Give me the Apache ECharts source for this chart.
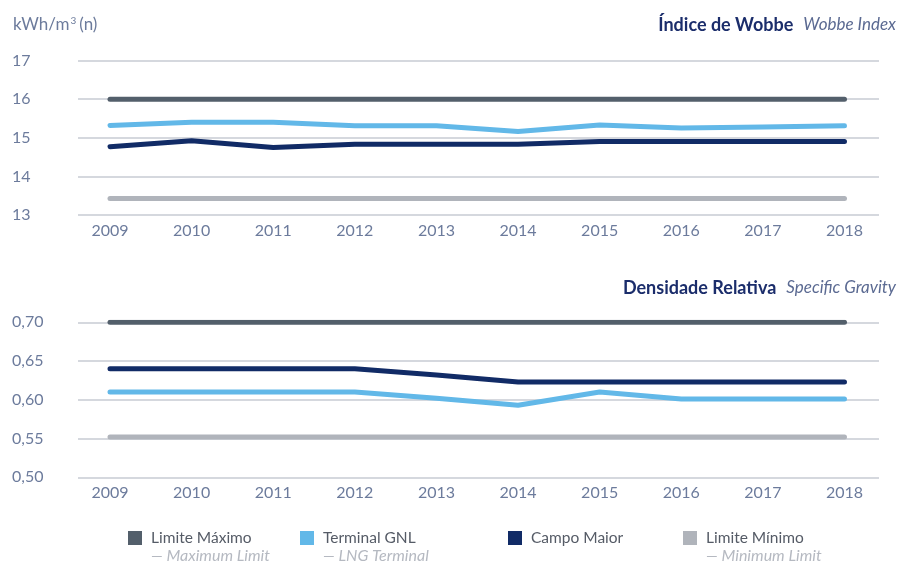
<!DOCTYPE html>
<html>
<head>
<meta charset="utf-8">
<script src="https://cdn.jsdelivr.net/npm/echarts@6/dist/echarts.min.js"></script>
<style>
html,body{margin:0;padding:0;background:#fff;}
#c{width:903px;height:562px;}
</style>
</head>
<body>
<div id="c"></div>
<script>
// ---- data ----
const years = ['2009','2010','2011','2012','2013','2014','2015','2016','2017','2018'];
const seriesNames = ['Limite Máximo','Terminal GNL','Campo Maior','Limite Mínimo'];
const seriesSub = ['— Maximum Limit','— LNG Terminal','','— Minimum Limit'];

const wobbeMax   = [16,16,16,16,16,16,16,16,16,16];
const wobbeGNL   = [15.32,15.40,15.40,15.31,15.31,15.16,15.33,15.25,15.28,15.31];
const wobbeCampo = [14.77,14.92,14.75,14.83,14.83,14.83,14.90,14.90,14.90,14.90];
const wobbeMin   = [13.43,13.43,13.43,13.43,13.43,13.43,13.43,13.43,13.43,13.43];

const densMax   = [0.70,0.70,0.70,0.70,0.70,0.70,0.70,0.70,0.70,0.70];
const densGNL   = [0.610,0.610,0.610,0.610,0.602,0.593,0.610,0.601,0.601,0.601];
const densCampo = [0.640,0.640,0.640,0.640,0.632,0.623,0.623,0.623,0.623,0.623];
const densMin   = [0.552,0.552,0.552,0.552,0.552,0.552,0.552,0.552,0.552,0.552];

const wobbeTicks = {min:13, max:17, interval:1};
const densTicks  = {min:0.50, max:0.70, interval:0.05};

// ---- styles ----
const FONT = 'Lato';
const colors = ['#535f6b','#62b8e8','#112b66','#b0b4bb'];
const labelColor = '#6c7b9c';
const gridColor = '#c7cbd3';

const topG = {top:60.5, bottom:347};
const botG = {top:322.3, bottom:84.7};
const lineGridLR = {left:78, right:24};
const dataGridLR = {left:69.2, right:17.7};

function valueAxisLines(gi, t, fmt){
  return {gridIndex:gi, type:'value', min:t.min, max:t.max, interval:t.interval,
    axisLine:{show:false}, axisTick:{show:false},
    splitLine:{show:true, lineStyle:{color:gridColor, width:1.5}},
    axisLabel:{show:true, color:labelColor, fontFamily:FONT, fontSize:16, align:'left', margin:66, formatter:fmt}};
}
function valueAxisHidden(gi, t){
  return {gridIndex:gi, type:'value', min:t.min, max:t.max, interval:t.interval, show:false,
    splitLine:{show:false}};
}
function catAxisHidden(gi){
  return {gridIndex:gi, type:'category', data:years, show:false};
}
function catAxisData(gi){
  return {gridIndex:gi, type:'category', data:years, boundaryGap:true,
    axisLine:{show:false}, axisTick:{show:false}, splitLine:{show:false},
    axisLabel:{color:labelColor, fontFamily:FONT, fontSize:16, margin:8}};
}
function mkSeries(name, data, idx, axisIdx){
  return {name:name, type:'line', xAxisIndex:axisIdx, yAxisIndex:axisIdx, data:data,
    symbol:'none', smooth:false, z:10-idx,
    lineStyle:{color:colors[idx], width:5, cap:'round', join:'round'},
    itemStyle:{color:colors[idx]}};
}

const legendLefts = [128,300,508,683];
const legends = seriesNames.map((n,i)=>({
  left:legendLefts[i], top:530, padding:0, icon:'rect', itemWidth:14, itemHeight:14,
  data:[n], selectedMode:false,
  textStyle:{color:'#555b66', fontFamily:FONT, fontSize:15.5, padding:[0,0,0,4]}
}));

const subTexts = seriesSub.map((s,i)=>({
  type:'text', left:legendLefts[i]+23, top:548,
  style:{text:s, fill:'#b5b9c1', font:'italic 16px Lato'}
}));

const titleRich = {
  a:{color:'#1b2d6b', fontFamily:FONT, fontSize:18, fontWeight:'bold'},
  b:{color:'#5b6a92', fontFamily:FONT, fontSize:17, fontStyle:'italic', fontWeight:'normal'}
};

const chart = echarts.init(document.getElementById('c'), null, {renderer:'canvas'});
chart.setOption({
  backgroundColor:'#fff',
  animation:false,
  title:[
    {text:'kWh/m{sup|3}{t|(n)}', left:8, top:11,
      textStyle:{color:labelColor, fontFamily:FONT, fontSize:17, fontWeight:'normal',
        rich:{sup:{fontSize:10, verticalAlign:'top', color:labelColor, fontFamily:FONT, fontWeight:'normal', padding:[0,3,8,1]},
              t:{fontSize:17, color:labelColor, fontFamily:FONT, fontWeight:'normal'}}}},
    {text:'{a|Índice de Wobbe}  {b|Wobbe Index}', right:2, top:11,
      textStyle:{fontWeight:'normal', rich:titleRich}},
    {text:'{a|Densidade Relativa}  {b|Specific Gravity}', right:2, top:274,
      textStyle:{fontWeight:'normal', rich:titleRich}}
  ],
  legend:legends,
  graphic:subTexts,
  grid:[
    Object.assign({}, topG, lineGridLR),
    Object.assign({}, topG, dataGridLR),
    Object.assign({}, botG, lineGridLR),
    Object.assign({}, botG, dataGridLR)
  ],
  xAxis:[catAxisHidden(0), catAxisData(1), catAxisHidden(2), catAxisData(3)],
  yAxis:[
    valueAxisLines(0, wobbeTicks, v=>String(v)),
    valueAxisHidden(1, wobbeTicks),
    valueAxisLines(2, densTicks, v=>v.toFixed(2).replace('.',',')),
    valueAxisHidden(3, densTicks)
  ],
  series:[
    mkSeries(seriesNames[0], wobbeMax, 0, 1),
    mkSeries(seriesNames[1], wobbeGNL, 1, 1),
    mkSeries(seriesNames[2], wobbeCampo, 2, 1),
    mkSeries(seriesNames[3], wobbeMin, 3, 1),
    mkSeries(seriesNames[0], densMax, 0, 3),
    mkSeries(seriesNames[1], densGNL, 1, 3),
    mkSeries(seriesNames[2], densCampo, 2, 3),
    mkSeries(seriesNames[3], densMin, 3, 3)
  ]
});
</script>
</body>
</html>
